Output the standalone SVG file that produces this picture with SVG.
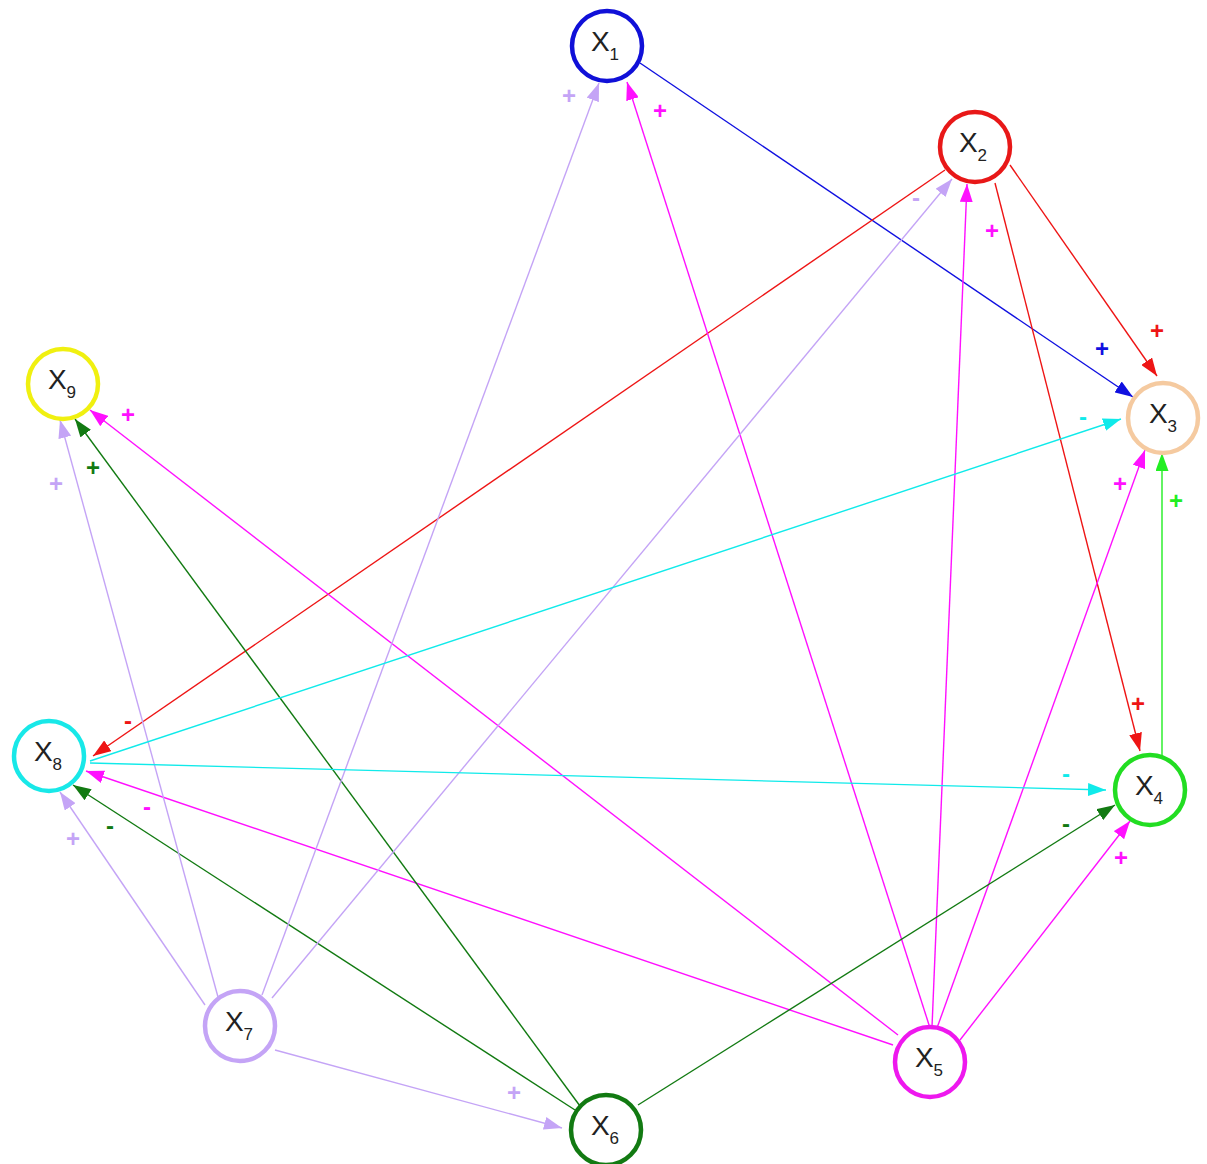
<svg xmlns="http://www.w3.org/2000/svg" width="1207" height="1164" viewBox="0 0 1207 1164">
<style>
.n{fill:#fff;stroke-width:4.5}
.t{font-family:"Liberation Sans",Arial,sans-serif;font-size:28px;fill:#222;text-anchor:middle}
.t tspan{font-size:17px}
.e{fill:none;stroke-width:1.4}
.s{font-family:"Liberation Sans",Arial,sans-serif;font-size:24px;font-weight:bold;text-anchor:middle;dominant-baseline:central}
</style>
<defs>
<marker id="mb" markerUnits="userSpaceOnUse" markerWidth="18" markerHeight="13" refX="18" refY="6.5" orient="auto"><path d="M0,0L18,6.5L0,13z" fill="#1010e0"/></marker>
<marker id="mr" markerUnits="userSpaceOnUse" markerWidth="18" markerHeight="13" refX="18" refY="6.5" orient="auto"><path d="M0,0L18,6.5L0,13z" fill="#ee1515"/></marker>
<marker id="ml" markerUnits="userSpaceOnUse" markerWidth="18" markerHeight="13" refX="18" refY="6.5" orient="auto"><path d="M0,0L18,6.5L0,13z" fill="#22ee22"/></marker>
<marker id="mm" markerUnits="userSpaceOnUse" markerWidth="18" markerHeight="13" refX="18" refY="6.5" orient="auto"><path d="M0,0L18,6.5L0,13z" fill="#ff10ff"/></marker>
<marker id="mg" markerUnits="userSpaceOnUse" markerWidth="18" markerHeight="13" refX="18" refY="6.5" orient="auto"><path d="M0,0L18,6.5L0,13z" fill="#127a12"/></marker>
<marker id="mv" markerUnits="userSpaceOnUse" markerWidth="18" markerHeight="13" refX="18" refY="6.5" orient="auto"><path d="M0,0L18,6.5L0,13z" fill="#c4a4f6"/></marker>
<marker id="mc" markerUnits="userSpaceOnUse" markerWidth="18" markerHeight="13" refX="18" refY="6.5" orient="auto"><path d="M0,0L18,6.5L0,13z" fill="#10eaea"/></marker>
</defs>
<rect width="1207" height="1164" fill="#fff"/>
<g id="connectors">
<line class="e" stroke="#1010e0" marker-end="url(#mb)" x1="640" y1="63" x2="1133" y2="397"/>
<line class="e" stroke="#ee1515" marker-end="url(#mr)" x1="1010" y1="165" x2="1157" y2="376"/>
<line class="e" stroke="#ee1515" marker-end="url(#mr)" x1="995" y1="183" x2="1140" y2="751"/>
<line class="e" stroke="#ee1515" marker-end="url(#mr)" x1="945" y1="170" x2="93" y2="756"/>
<line class="e" stroke="#22ee22" marker-end="url(#ml)" x1="1162" y1="755" x2="1162" y2="453"/>
<line class="e" stroke="#ff10ff" marker-end="url(#mm)" x1="930" y1="1028" x2="627" y2="82"/>
<line class="e" stroke="#ff10ff" marker-end="url(#mm)" x1="932" y1="1027" x2="967" y2="184"/>
<line class="e" stroke="#ff10ff" marker-end="url(#mm)" x1="937" y1="1028" x2="1145" y2="450"/>
<line class="e" stroke="#ff10ff" marker-end="url(#mm)" x1="960" y1="1040" x2="1130" y2="821"/>
<line class="e" stroke="#ff10ff" marker-end="url(#mm)" x1="893" y1="1045" x2="86" y2="771"/>
<line class="e" stroke="#ff10ff" marker-end="url(#mm)" x1="898" y1="1035" x2="90" y2="410"/>
<line class="e" stroke="#127a12" marker-end="url(#mg)" x1="638" y1="1105" x2="1115" y2="805"/>
<line class="e" stroke="#127a12" marker-end="url(#mg)" x1="575" y1="1110" x2="73" y2="785"/>
<line class="e" stroke="#127a12" marker-end="url(#mg)" x1="580" y1="1106" x2="75" y2="419"/>
<line class="e" stroke="#c4a4f6" marker-end="url(#mv)" x1="262" y1="995" x2="599" y2="83"/>
<line class="e" stroke="#c4a4f6" marker-end="url(#mv)" x1="272" y1="998" x2="952" y2="179"/>
<line class="e" stroke="#c4a4f6" marker-end="url(#mv)" x1="275" y1="1050" x2="562" y2="1128"/>
<line class="e" stroke="#c4a4f6" marker-end="url(#mv)" x1="205" y1="1005" x2="60" y2="792"/>
<line class="e" stroke="#c4a4f6" marker-end="url(#mv)" x1="218" y1="997" x2="60" y2="420"/>
<line class="e" stroke="#10eaea" marker-end="url(#mc)" x1="90" y1="761" x2="1121" y2="419"/>
<line class="e" stroke="#10eaea" marker-end="url(#mc)" x1="90" y1="763" x2="1106" y2="790"/>
</g>
<g id="labels">
<text class="s" fill="#1010e0" x="1102" y="348">+</text>
<text class="s" fill="#ee1515" x="1157" y="330">+</text>
<text class="s" fill="#ee1515" x="1138" y="703">+</text>
<text class="s" fill="#ee1515" x="128" y="720">-</text>
<text class="s" fill="#22ee22" x="1176" y="500">+</text>
<text class="s" fill="#ff10ff" x="660" y="110">+</text>
<text class="s" fill="#ff10ff" x="992" y="230">+</text>
<text class="s" fill="#ff10ff" x="1120" y="483">+</text>
<text class="s" fill="#ff10ff" x="1121" y="857">+</text>
<text class="s" fill="#ff10ff" x="147" y="806">-</text>
<text class="s" fill="#ff10ff" x="128" y="414">+</text>
<text class="s" fill="#127a12" x="1066" y="823">-</text>
<text class="s" fill="#127a12" x="110" y="825">-</text>
<text class="s" fill="#127a12" x="93" y="467">+</text>
<text class="s" fill="#c4a4f6" x="569" y="95">+</text>
<text class="s" fill="#c4a4f6" x="916" y="197">-</text>
<text class="s" fill="#c4a4f6" x="514" y="1092">+</text>
<text class="s" fill="#c4a4f6" x="73" y="838">+</text>
<text class="s" fill="#c4a4f6" x="56" y="483">+</text>
<text class="s" fill="#10eaea" x="1083" y="416">-</text>
<text class="s" fill="#10eaea" x="1066" y="773">-</text>
</g>
<g id="X1"><circle class="n" cx="607" cy="46" r="35" stroke="#1010d8"/><text class="t" x="605" y="51">X<tspan dy="9">1</tspan></text></g>
<g id="X2"><circle class="n" cx="975" cy="147" r="35" stroke="#e81818"/><text class="t" x="973" y="152">X<tspan dy="9">2</tspan></text></g>
<g id="X3"><circle class="n" cx="1163" cy="418" r="35" stroke="#f5caa0"/><text class="t" x="1163" y="423">X<tspan dy="9">3</tspan></text></g>
<g id="X4"><circle class="n" cx="1150" cy="790" r="35" stroke="#22dd22"/><text class="t" x="1149" y="795">X<tspan dy="9">4</tspan></text></g>
<g id="X5"><circle class="n" cx="930" cy="1062" r="35" stroke="#ee18ee"/><text class="t" x="929" y="1067">X<tspan dy="9">5</tspan></text></g>
<g id="X6"><circle class="n" cx="606" cy="1130" r="35" stroke="#127a12"/><text class="t" x="605" y="1135">X<tspan dy="9">6</tspan></text></g>
<g id="X7"><circle class="n" cx="240" cy="1026" r="35" stroke="#c4a4f6"/><text class="t" x="239" y="1031">X<tspan dy="9">7</tspan></text></g>
<g id="X8"><circle class="n" cx="49" cy="756" r="35" stroke="#18e8e8"/><text class="t" x="48" y="761">X<tspan dy="9">8</tspan></text></g>
<g id="X9"><circle class="n" cx="63" cy="384" r="35" stroke="#f0f010"/><text class="t" x="62" y="389">X<tspan dy="9">9</tspan></text></g>
</svg>
